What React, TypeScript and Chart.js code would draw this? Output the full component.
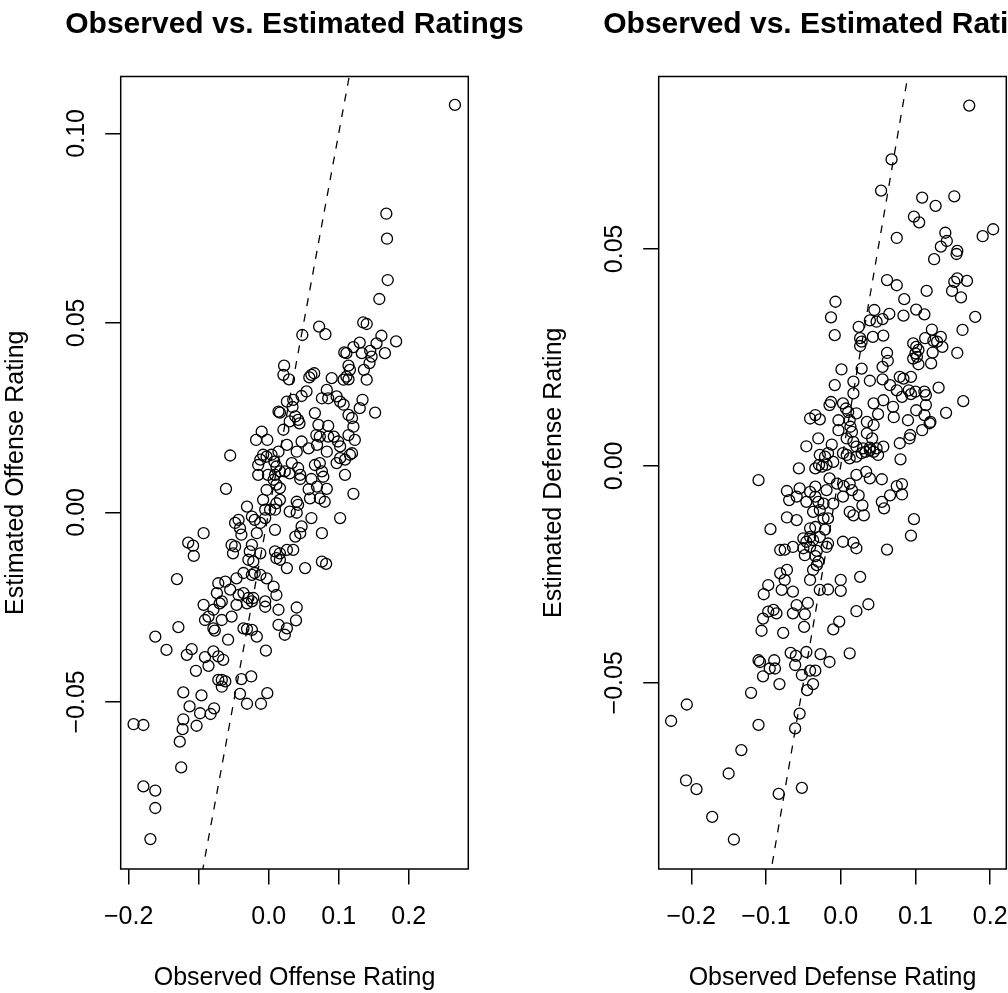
import React, { useEffect, useRef } from "react";
import { Chart, registerables } from "chart.js";

Chart.register(...registerables);

// ---------- data ----------
const offenseObserved = [
  0.266, 0.168, 0.169, 0.170, 0.158, 0.135, 0.140, 0.072, 0.081, 0.048,
  0.161, 0.182, 0.154, 0.166, 0.152, 0.130, 0.121, 0.108, 0.111, 0.145,
  0.147, 0.133, 0.144, 0.136, 0.114, 0.116, 0.140, 0.111, 0.107, 0.114,
  0.022, 0.021, 0.029, 0.061, 0.065, 0.058, 0.090, 0.054, 0.047, 0.035,
  0.026, 0.076, 0.083, 0.085, 0.097, 0.102, 0.107, 0.134, 0.130, 0.014,
  0.016, 0.034, 0.038, 0.042, 0.044, 0.066, 0.114, 0.119, 0.121, 0.114,
  0.123, 0.021, 0.030, 0.071, 0.085, 0.068, 0.073, 0.085, 0.093, 0.099,
  0.102, 0.047, 0.057, 0.069, -0.010, -0.018, -0.002, 0.026, 0.014, 0.040,
  0.083, -0.055, -0.008, -0.012, -0.003, -0.015, 0.004, 0.008, 0.011, 0.016,
  0.009, 0.023, 0.030, 0.033, 0.042, -0.015, -0.001, 0.007, 0.011, 0.016,
  0.066, 0.073, 0.076, 0.102, 0.109, 0.116, 0.119, 0.097, 0.109, 0.045,
  0.045, 0.061, 0.078, 0.069, 0.083, -0.061, 0.121, 0.057, 0.059, 0.073,
  0.080, 0.040, 0.042, 0.030, 0.040, 0.016, 0.011, 0.009, -0.003, -0.008,
  0.002, 0.061, 0.102, 0.076, 0.047, 0.045, 0.038, -0.031, -0.024, -0.020,
  -0.012, -0.005, -0.005, -0.043, -0.048, -0.041, -0.039, -0.017, 0.009, -0.093,
  -0.107, -0.115, -0.108, -0.053, -0.048, -0.051, -0.024, -0.027, -0.012, -0.029,
  -0.022, 0.009, 0.016, 0.011, 0.016, 0.026, 0.035, 0.026, 0.052, 0.076,
  0.082, -0.131, -0.072, -0.062, -0.055, -0.046, -0.036, -0.024, -0.020, -0.012,
  -0.003, 0.007, 0.011, -0.074, -0.067, -0.070, -0.043, -0.036, -0.029, -0.024,
  -0.022, -0.031, -0.046, -0.005, -0.005, -0.093, -0.086, -0.091, -0.079, -0.067,
  -0.053, 0.014, 0.040, 0.039, 0.014, 0.026, 0.023, -0.129, -0.162, -0.079,
  -0.077, -0.036, -0.031, -0.024, -0.017, -0.058, -0.146, -0.110, -0.117, -0.004,
  -0.091, -0.079, -0.072, -0.065, -0.086, -0.104, -0.072, -0.067, -0.062, -0.067,
  -0.039, -0.025, -0.122, -0.096, -0.041, -0.002, -0.031, -0.011, -0.113, -0.098,
  -0.083, -0.078, -0.193, -0.179, -0.122, -0.123, -0.103, -0.127, -0.125, -0.179,
  -0.162, -0.162, -0.169,
];

const offenseEstimated = [
  0.1075, 0.0788, 0.0722, 0.0613, 0.0563, 0.0501, 0.0497, 0.0490, 0.0470, 0.0468,
  0.0466, 0.0451, 0.0446, 0.0420, 0.0263, 0.0448, 0.0436, 0.0422, 0.0420, 0.0426,
  0.0411, 0.0420, 0.0394, 0.0376, 0.0387, 0.0376, 0.0350, 0.0358, 0.0350, 0.0351,
  0.0387, 0.0363, 0.0351, 0.0363, 0.0367, 0.0356, 0.0354, 0.0319, 0.0307, 0.0297,
  0.0292, 0.0301, 0.0323, 0.0301, 0.0306, 0.0292, 0.0284, 0.0297, 0.0275, 0.0266,
  0.0263, 0.0278, 0.0253, 0.0244, 0.0235, 0.0262, 0.0257, 0.0249, 0.0226, 0.0204,
  0.0191, 0.0218, 0.0240, 0.0231, 0.0228, 0.0204, 0.0200, 0.0200, 0.0200, 0.0187,
  0.0174, 0.0187, 0.0169, 0.0178, 0.0213, 0.0191, 0.0191, 0.0178, 0.0160, 0.0160,
  0.0160, 0.0150, 0.0152, 0.0139, 0.0147, 0.0125, 0.0152, 0.0134, 0.0121, 0.0108,
  0.0099, 0.0108, 0.0103, 0.0130, 0.0117, 0.0099, 0.0099, 0.0086, 0.0073, 0.0064,
  0.0125, 0.0130, 0.0108, 0.0143, 0.0139, 0.0152, 0.0156, 0.0130, 0.0099, 0.0099,
  0.0088, 0.0088, 0.0094, 0.0068, 0.0062, 0.0062, 0.0049, 0.0061, 0.0037, 0.0037,
  0.0028, 0.0028, 0.0020, 0.0002, -0.0001, 0.0033, 0.0024, 0.0007, 0.0059, 0.0033,
  0.0007, -0.0015, -0.0015, -0.0055, -0.0037, -0.0055, -0.0064, 0.0015, -0.0011, -0.0020,
  -0.0028, -0.0015, 0.0007, -0.0020, -0.0028, -0.0042, -0.0059, -0.0055, -0.0046, -0.0055,
  -0.0115, -0.0080, -0.0088, -0.0086, -0.0090, -0.0108, -0.0086, -0.0103, -0.0108, -0.0125,
  -0.0130, -0.0103, -0.0108, -0.0121, -0.0125, -0.0099, -0.0099, -0.0147, -0.0147, -0.0130,
  -0.0136, -0.0176, -0.0187, -0.0183, -0.0204, -0.0174, -0.0160, -0.0165, -0.0160, -0.0165,
  -0.0174, -0.0196, -0.0218, -0.0213, -0.0235, -0.0240, -0.0218, -0.0213, -0.0226, -0.0235,
  -0.0226, -0.0240, -0.0244, -0.0235, -0.0249, -0.0244, -0.0275, -0.0284, -0.0257, -0.0284,
  -0.0275, -0.0257, -0.0251, -0.0285, -0.0297, -0.0306, -0.0323, -0.0303, -0.0328, -0.0306,
  -0.0312, -0.0306, -0.0308, -0.0310, -0.0328, -0.0336, -0.0363, -0.0361, -0.0376, -0.0365,
  -0.0382, -0.0367, -0.0380, -0.0389, -0.0405, -0.0418, -0.0442, -0.0442, -0.0446, -0.0460,
  -0.0440, -0.0433, -0.0475, -0.0483, -0.0479, -0.0477, -0.0505, -0.0505, -0.0512, -0.0530,
  -0.0532, -0.0517, -0.0559, -0.0561, -0.0546, -0.0572, -0.0563, -0.0605, -0.0673, -0.0723,
  -0.0734, -0.0780, -0.0862,
];

const defenseObserved = [
  0.172, 0.068, 0.054, 0.109, 0.127, 0.152, 0.098, 0.105, 0.075, 0.140,
  0.142, 0.134, 0.125, 0.156, 0.155, 0.190, 0.204, 0.062, 0.075, 0.085,
  0.115, 0.152, 0.156, 0.169, 0.149, 0.161, 0.180, -0.007, -0.013, -0.008,
  0.045, 0.065, 0.056, 0.048, 0.039, 0.084, 0.101, 0.112, 0.024, 0.043,
  0.057, 0.026, 0.028, 0.026, 0.122, 0.163, 0.097, 0.101, 0.104, 0.102,
  0.100, 0.113, 0.124, 0.134, 0.129, 0.136, 0.123, 0.156, 0.062, 0.063,
  0.056, 0.097, 0.104, 0.121, 0.001, 0.028, 0.017, 0.039, -0.008, 0.017,
  0.056, 0.066, 0.079, 0.084, 0.094, 0.075, 0.082, 0.091, 0.094, 0.100,
  0.112, 0.114, 0.131, 0.164, 0.141, -0.013, -0.015, 0.003, 0.007, 0.010,
  0.021, 0.044, 0.057, 0.070, 0.050, 0.071, 0.090, 0.101, 0.114, 0.112,
  -0.041, -0.034, -0.028, -0.003, 0.012, 0.013, 0.015, 0.035, 0.044, 0.035,
  0.042, -0.003, 0.008, 0.017, 0.021, 0.030, 0.039, 0.048, 0.057, -0.030,
  -0.046, -0.012, 0.120, 0.119, 0.109, 0.093, 0.092, 0.079, 0.003, 0.008,
  0.012, 0.021, 0.028, 0.033, 0.039, 0.044, 0.050, 0.080, -0.028, -0.021,
  -0.017, -0.010, -0.029, -0.019, -0.025, -0.034, -0.056, -0.110, -0.015, -0.005,
  0.004, 0.012, 0.021, 0.034, 0.039, 0.055, 0.075, 0.082, 0.082, 0.066,
  0.055, 0.058, 0.098, 0.094, 0.062, -0.072, -0.069, -0.055, -0.041, -0.034,
  -0.019, -0.059, -0.046, -0.034, -0.030, -0.023, -0.010, 0.003, 0.015, 0.024,
  0.029, 0.031, 0.012, 0.017, -0.072, -0.059, -0.037, -0.028, -0.023, -0.017,
  -0.094, -0.041, -0.034, -0.021, -0.041, -0.046, -0.050, -0.037, -0.028, -0.081,
  -0.075, -0.064, -0.050, -0.041, -0.032, -0.019, -0.017, 0.003, 0.017, 0.021,
  -0.048, -0.034, -0.030, -0.032, -0.037, -0.081, -0.072, -0.075, -0.079, -0.097,
  -0.103, -0.064, -0.041, -0.028, -0.017, 0.000, 0.000, 0.026, -0.059, -0.044,
  -0.048, -0.064, -0.049, -0.090, -0.086, -0.097, -0.104, -0.106, -0.077, -0.010,
  -0.002, 0.021, 0.037, -0.067, -0.060, -0.046, -0.027, -0.015, 0.012, -0.110,
  -0.108, -0.089, -0.095, -0.088, -0.104, -0.061, -0.052, -0.041, -0.034, -0.037,
  -0.045, -0.082, -0.120, -0.055, -0.110, -0.061, -0.206, -0.227, -0.133, -0.150,
  -0.207, -0.193, -0.083, -0.052, -0.172, -0.143,
];

const defenseEstimated = [
  0.0830, 0.0706, 0.0634, 0.0618, 0.0599, 0.0621, 0.0574, 0.0561, 0.0525, 0.0537,
  0.0518, 0.0505, 0.0476, 0.0495, 0.0488, 0.0529, 0.0545, 0.0428, 0.0416, 0.0384,
  0.0403, 0.0424, 0.0432, 0.0426, 0.0403, 0.0388, 0.0343, 0.0378, 0.0342, 0.0301,
  0.0359, 0.0350, 0.0338, 0.0332, 0.0335, 0.0346, 0.0360, 0.0349, 0.0320, 0.0297,
  0.0300, 0.0294, 0.0286, 0.0276, 0.0314, 0.0313, 0.0282, 0.0274, 0.0267, 0.0251,
  0.0259, 0.0294, 0.0288, 0.0297, 0.0286, 0.0274, 0.0261, 0.0260, 0.0260, 0.0242,
  0.0228, 0.0247, 0.0234, 0.0236, 0.0222, 0.0224, 0.0194, 0.0196, 0.0186, 0.0167,
  0.0199, 0.0186, 0.0205, 0.0201, 0.0205, 0.0174, 0.0159, 0.0174, 0.0165, 0.0171,
  0.0171, 0.0163, 0.0180, 0.0149, 0.0122, 0.0147, 0.0140, 0.0144, 0.0132, 0.0124,
  0.0121, 0.0144, 0.0151, 0.0136, 0.0119, 0.0112, 0.0105, 0.0128, 0.0140, 0.0117,
  0.0109, 0.0117, 0.0107, 0.0105, 0.0105, 0.0090, 0.0078, 0.0101, 0.0094, 0.0075,
  0.0063, 0.0082, 0.0063, 0.0055, 0.0044, 0.0040, 0.0042, 0.0040, 0.0044, 0.0063,
  0.0045, 0.0049, 0.0101, 0.0098, 0.0082, 0.0071, 0.0063, 0.0052, 0.0029, 0.0025,
  0.0017, 0.0021, 0.0029, 0.0032, 0.0036, 0.0032, 0.0025, 0.0015, 0.0025, 0.0021,
  0.0029, 0.0009, 0.0002, 0.0002, -0.0002, -0.0006, -0.0006, -0.0033, -0.0029, -0.0041,
  -0.0047, -0.0041, -0.0021, -0.0014, -0.0029, -0.0031, -0.0047, -0.0042, -0.0066, -0.0068,
  -0.0083, -0.0098, -0.0123, -0.0161, -0.0193, -0.0058, -0.0079, -0.0052, -0.0060, -0.0048,
  -0.0056, -0.0071, -0.0083, -0.0071, -0.0083, -0.0087, -0.0087, -0.0071, -0.0056, -0.0068,
  -0.0091, -0.0114, -0.0106, -0.0114, -0.0119, -0.0125, -0.0106, -0.0102, -0.0121, -0.0121,
  -0.0146, -0.0144, -0.0141, -0.0147, -0.0164, -0.0175, -0.0167, -0.0171, -0.0164, -0.0194,
  -0.0193, -0.0187, -0.0190, -0.0187, -0.0196, -0.0187, -0.0179, -0.0175, -0.0177, -0.0190,
  -0.0206, -0.0208, -0.0221, -0.0229, -0.0240, -0.0248, -0.0240, -0.0263, -0.0286, -0.0275,
  -0.0296, -0.0290, -0.0263, -0.0286, -0.0285, -0.0288, -0.0263, -0.0256, -0.0321, -0.0316,
  -0.0342, -0.0340, -0.0371, -0.0332, -0.0340, -0.0336, -0.0352, -0.0380, -0.0385, -0.0377,
  -0.0359, -0.0335, -0.0319, -0.0431, -0.0438, -0.0429, -0.0434, -0.0452, -0.0432, -0.0448,
  -0.0452, -0.0448, -0.0467, -0.0467, -0.0485, -0.0459, -0.0482, -0.0472, -0.0472, -0.0503,
  -0.0517, -0.0503, -0.0523, -0.0571, -0.0597, -0.0605, -0.0550, -0.0588, -0.0655, -0.0709,
  -0.0725, -0.0745, -0.0756, -0.0742, -0.0809, -0.0861,
];

// axis ticks and labels
const offenseXTicks = [-0.2, -0.1, 0, 0.1, 0.2];
const offenseXLabels = ["\u22120.2", "", "0.0", "0.1", "0.2"];
const offenseYTicks = [-0.05, 0, 0.05, 0.1];
const offenseYLabels = ["\u22120.05", "0.00", "0.05", "0.10"];
const offenseXRange = [-0.2114, 0.2851];
const offenseYRange = [-0.0941, 0.1150];

const defenseXTicks = [-0.2, -0.1, 0, 0.1, 0.2];
const defenseXLabels = ["\u22120.2", "\u22120.1", "0.0", "0.1", "0.2"];
const defenseYTicks = [-0.05, 0, 0.05];
const defenseYLabels = ["\u22120.05", "0.00", "0.05"];
const defenseXRange = [-0.2436, 0.2216];
const defenseYRange = [-0.0929, 0.0897];

// reference line y = x
const identityLine = [-1, 1];

// ---------- layout / style ----------
const CANVAS_W = 539;
const CANVAS_H = 993;
const FONT = '"Liberation Sans", Arial, Helvetica, sans-serif';

type PanelCfg = {
  title: string;
  xTitle: string;
  yTitle: string;
  xs: number[];
  ys: number[];
  xTicks: number[];
  xLabels: string[];
  yTicks: number[];
  yLabels: string[];
  xRange: number[];
  yRange: number[];
};

const offenseCfg: PanelCfg = {
  title: "Observed vs. Estimated Ratings",
  xTitle: "Observed Offense Rating",
  yTitle: "Estimated Offense Rating",
  xs: offenseObserved,
  ys: offenseEstimated,
  xTicks: offenseXTicks,
  xLabels: offenseXLabels,
  yTicks: offenseYTicks,
  yLabels: offenseYLabels,
  xRange: offenseXRange,
  yRange: offenseYRange,
};

const defenseCfg: PanelCfg = {
  title: "Observed vs. Estimated Ratings",
  xTitle: "Observed Defense Rating",
  yTitle: "Estimated Defense Rating",
  xs: defenseObserved,
  ys: defenseEstimated,
  xTicks: defenseXTicks,
  xLabels: defenseXLabels,
  yTicks: defenseYTicks,
  yLabels: defenseYLabels,
  xRange: defenseXRange,
  yRange: defenseYRange,
};

function makeAnnotator(cfg: PanelCfg) {
  return {
    id: "rAnnotations",
    afterDraw(chart: any) {
      const { ctx, chartArea: a } = chart;
      const xs = chart.scales.x;
      const ys = chart.scales.y;
      ctx.save();
      ctx.strokeStyle = "#000";
      ctx.lineWidth = 1.5;
      ctx.strokeRect(a.left, a.top, a.right - a.left, a.bottom - a.top);

      ctx.fillStyle = "#000";
      ctx.font = `25px ${FONT}`;
      ctx.textAlign = "center";
      ctx.textBaseline = "alphabetic";
      cfg.xTicks.forEach((v, i) => {
        const l = cfg.xLabels[i];
        if (l) ctx.fillText(l, xs.getPixelForValue(v), a.bottom + 55);
      });
      cfg.yTicks.forEach((v, i) => {
        ctx.save();
        ctx.translate(a.left - 36.5, ys.getPixelForValue(v));
        ctx.rotate(-Math.PI / 2);
        ctx.fillText(cfg.yLabels[i], 0, 0);
        ctx.restore();
      });
      ctx.fillText(cfg.xTitle, (a.left + a.right) / 2, a.bottom + 116);
      ctx.save();
      ctx.translate(a.left - 97.5, (a.top + a.bottom) / 2);
      ctx.rotate(-Math.PI / 2);
      ctx.fillText(cfg.yTitle, 0, 0);
      ctx.restore();

      ctx.font = `bold 30px ${FONT}`;
      ctx.fillText(cfg.title, (a.left + a.right) / 2, 33);
      ctx.restore();
    },
  };
}

function Panel({ cfg, left }: { cfg: PanelCfg; left: number }) {
  const ref = useRef<HTMLCanvasElement>(null);
  useEffect(() => {
    if (!ref.current) return;
    const points = cfg.xs.map((x, i) => ({ x, y: cfg.ys[i] }));
    const gridStyle = {
      display: true,
      drawOnChartArea: false,
      drawTicks: true,
      tickLength: 15.5,
      color: "#000",
      tickColor: "#000",
      lineWidth: 1.5,
      tickWidth: 1.5,
    };
    const chart = new Chart(ref.current, {
      type: "scatter",
      data: {
        datasets: [
          {
            type: "line",
            data: identityLine.map((v) => ({ x: v, y: v })),
            borderColor: "#000",
            borderWidth: 1.3,
            borderDash: [8, 8],
            pointRadius: 0,
            fill: false,
            tension: 0,
          } as any,
          {
            type: "scatter",
            data: points,
            pointStyle: "circle",
            pointRadius: 5.5,
            pointBorderWidth: 1.3,
            pointBorderColor: "#000",
            pointBackgroundColor: "rgba(0,0,0,0)",
            borderColor: "#000",
            backgroundColor: "rgba(0,0,0,0)",
          } as any,
        ],
      },
      options: {
        animation: false,
        responsive: false,
        events: [],
        layout: { padding: { top: 76.5, right: 70.7, left: 0, bottom: 0 } },
        plugins: {
          legend: { display: false },
          tooltip: { enabled: false },
          title: { display: false },
        },
        scales: {
          x: {
            type: "linear",
            position: "bottom",
            min: cfg.xRange[0],
            max: cfg.xRange[1],
            afterBuildTicks: (s: any) => {
              s.ticks = cfg.xTicks.map((v) => ({ value: v }));
            },
            afterFit: (s: any) => {
              s.height = 124;
            },
            ticks: { display: false },
            grid: gridStyle,
            border: { display: false },
          },
          y: {
            type: "linear",
            position: "left",
            min: cfg.yRange[0],
            max: cfg.yRange[1],
            afterBuildTicks: (s: any) => {
              s.ticks = cfg.yTicks.map((v) => ({ value: v }));
            },
            afterFit: (s: any) => {
              s.width = 120.7;
            },
            ticks: { display: false },
            grid: gridStyle,
            border: { display: false },
          },
        },
      } as any,
      plugins: [makeAnnotator(cfg)],
    });
    return () => chart.destroy();
  }, [cfg]);
  return (
    <canvas
      ref={ref}
      width={CANVAS_W}
      height={CANVAS_H}
      style={{ position: "absolute", left, top: 0, width: CANVAS_W, height: CANVAS_H }}
    />
  );
}

export default function App() {
  return (
    <div
      style={{
        position: "absolute",
        left: 0,
        top: 0,
        width: 1008,
        height: 993,
        overflow: "hidden",
        background: "#fff",
      }}
    >
      <Panel cfg={offenseCfg} left={0} />
      <Panel cfg={defenseCfg} left={538} />
    </div>
  );
}
